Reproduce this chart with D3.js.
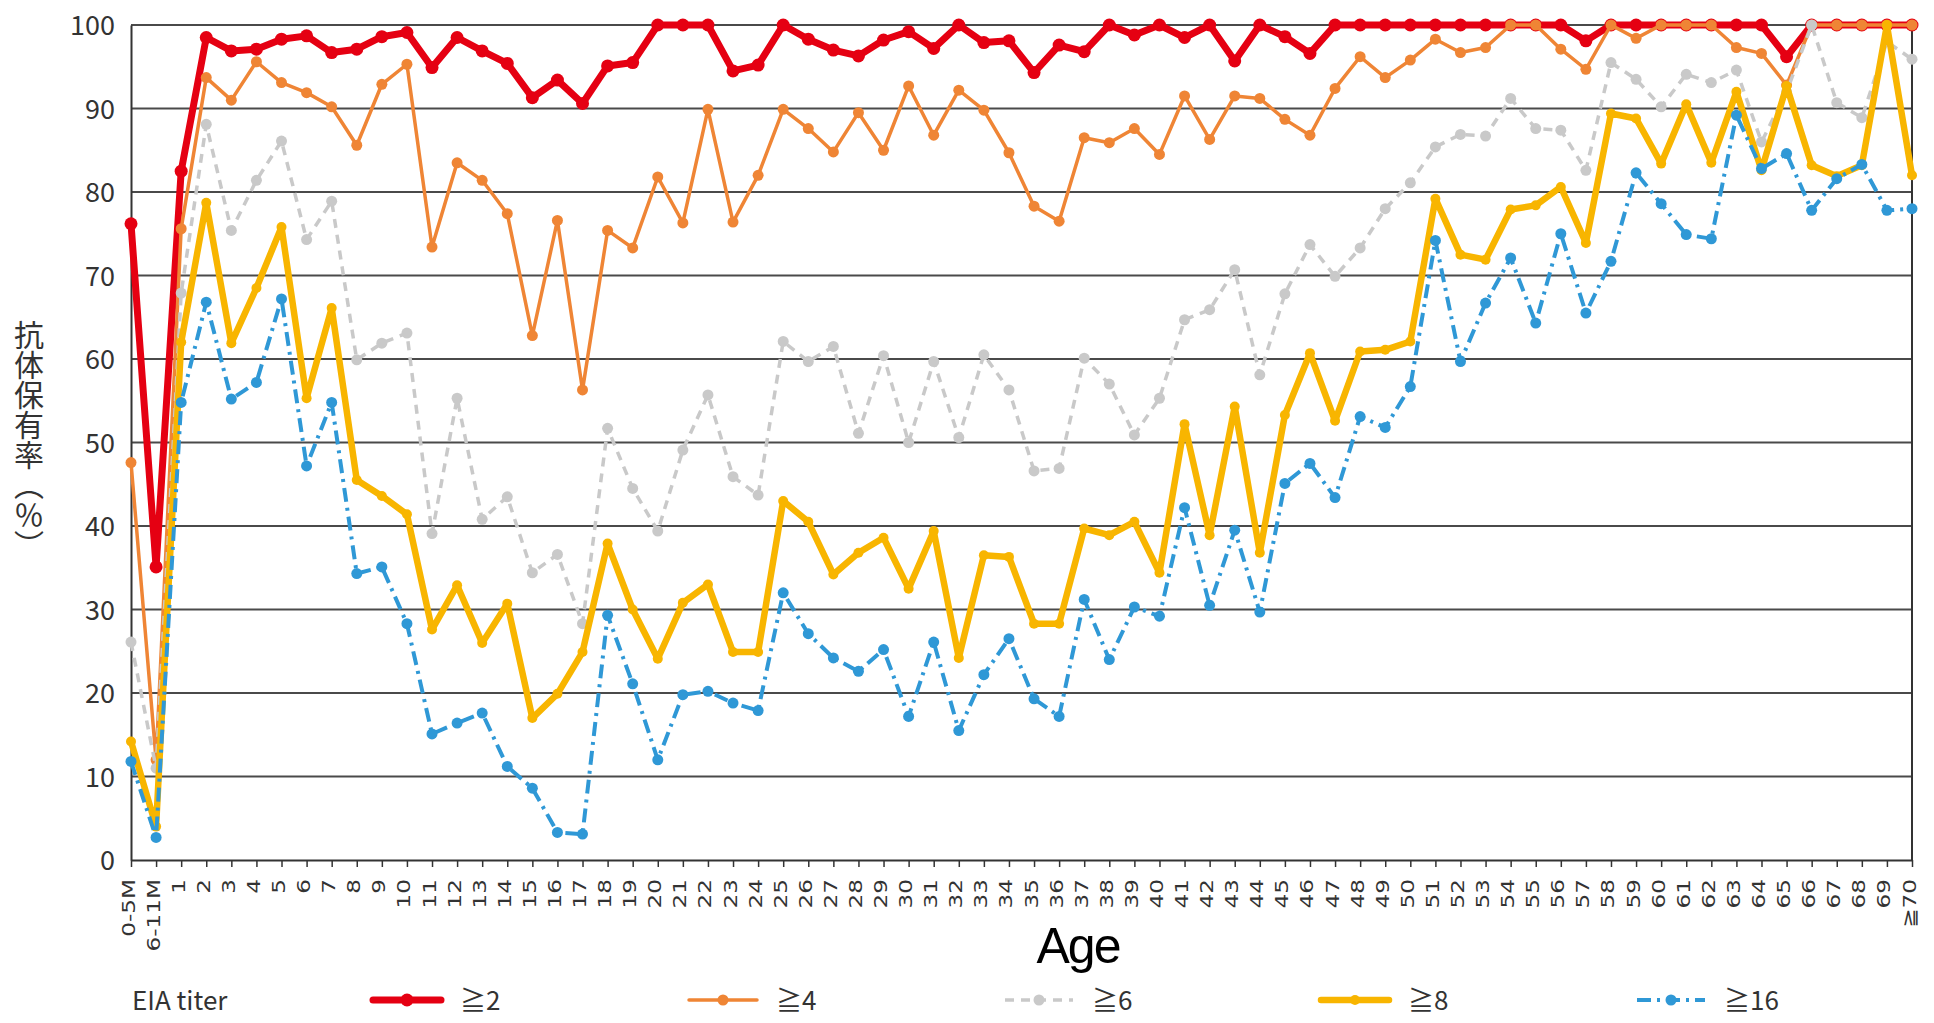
<!DOCTYPE html>
<html>
<head>
<meta charset="utf-8">
<script src="https://cdn.jsdelivr.net/npm/d3@7"></script>
<style>
  html, body { margin: 0; padding: 0; background: #fff; }
  svg { display: block; }
</style>
</head>
<body>
<svg id="chart"></svg>
<script>
// age groups on the x axis
const ages = ["0-5M","6-11M",
  "1","2","3","4","5","6","7","8","9","10",
  "11","12","13","14","15","16","17","18","19","20",
  "21","22","23","24","25","26","27","28","29","30",
  "31","32","33","34","35","36","37","38","39","40",
  "41","42","43","44","45","46","47","48","49","50",
  "51","52","53","54","55","56","57","58","59","60",
  "61","62","63","64","65","66","67","68","69","≧70"];

// antibody prevalence (%) by EIA titer
const ge2 = [76.2, 35.1,
  82.5, 98.5, 96.9, 97.1, 98.3, 98.7, 96.7, 97.1, 98.6, 99.1,
  94.9, 98.5, 96.9, 95.4, 91.3, 93.4, 90.6, 95.1, 95.5, 100,
  100, 100, 94.5, 95.2, 100, 98.3, 97.0, 96.3, 98.2, 99.2,
  97.2, 100, 97.9, 98.1, 94.3, 97.6, 96.8, 100, 98.8, 100,
  98.5, 100, 95.7, 100, 98.6, 96.6, 100, 100, 100, 100,
  100, 100, 100, 100, 100, 100, 98.1, 100, 100, 100,
  100, 100, 100, 100, 96.2, 100, 100, 100, 100, 100];
const ge4 = [47.6, 12.0,
  75.6, 93.7, 91.0, 95.6, 93.1, 91.9, 90.2, 85.6, 92.9, 95.3,
  73.4, 83.5, 81.4, 77.4, 62.8, 76.6, 56.3, 75.4, 73.3, 81.8,
  76.3, 89.9, 76.4, 82.0, 89.9, 87.6, 84.8, 89.5, 85.0, 92.7,
  86.8, 92.2, 89.8, 84.7, 78.3, 76.5, 86.5, 85.9, 87.6, 84.5,
  91.5, 86.3, 91.5, 91.2, 88.7, 86.8, 92.4, 96.2, 93.7, 95.8,
  98.3, 96.7, 97.3, 100, 100, 97.1, 94.7, 100, 98.4, 100,
  100, 100, 97.3, 96.6, 92.8, 100, 100, 100, 100, 100];
const ge6 = [26.1, 11.0,
  67.9, 88.1, 75.4, 81.4, 86.1, 74.3, 78.9, 59.9, 61.9, 63.1,
  39.1, 55.3, 40.8, 43.5, 34.4, 36.6, 28.3, 51.7, 44.5, 39.4,
  49.1, 55.7, 45.9, 43.7, 62.1, 59.7, 61.5, 51.1, 60.4, 50.0,
  59.7, 50.6, 60.5, 56.3, 46.6, 46.9, 60.1, 57.0, 50.9, 55.3,
  64.7, 65.9, 70.7, 58.1, 67.8, 73.7, 69.9, 73.3, 78.0, 81.1,
  85.4, 86.9, 86.7, 91.2, 87.6, 87.4, 82.6, 95.5, 93.5, 90.2,
  94.1, 93.1, 94.6, 86.0, 92.0, 100, 90.7, 88.9, 98.0, 95.9];
const ge8 = [14.2, 4.0,
  62.0, 78.7, 61.9, 68.5, 75.8, 55.3, 66.1, 45.5, 43.6, 41.4,
  27.6, 32.9, 26.0, 30.7, 17.0, 19.9, 24.9, 37.9, 30.0, 24.1,
  30.8, 33.0, 24.9, 24.9, 43.0, 40.5, 34.2, 36.8, 38.6, 32.5,
  39.4, 24.2, 36.5, 36.3, 28.3, 28.3, 39.7, 38.9, 40.5, 34.4,
  52.2, 38.9, 54.3, 36.8, 53.3, 60.7, 52.6, 60.9, 61.1, 62.1,
  79.2, 72.5, 71.9, 77.9, 78.4, 80.6, 73.9, 89.4, 88.8, 83.4,
  90.5, 83.5, 92.0, 82.6, 92.7, 83.2, 81.9, 83.2, 100, 82.0];
const ge16 = [11.8, 2.7,
  54.8, 66.8, 55.2, 57.2, 67.2, 47.2, 54.8, 34.3, 35.1, 28.3,
  15.1, 16.4, 17.6, 11.2, 8.6, 3.3, 3.1, 29.3, 21.1, 12.0,
  19.8, 20.2, 18.8, 17.9, 32.0, 27.1, 24.2, 22.6, 25.2, 17.2,
  26.1, 15.5, 22.2, 26.5, 19.3, 17.2, 31.2, 24.0, 30.3, 29.2,
  42.2, 30.5, 39.5, 29.7, 45.1, 47.5, 43.4, 53.1, 51.8, 56.7,
  74.2, 59.7, 66.7, 72.1, 64.3, 75.0, 65.5, 71.7, 82.3, 78.6,
  74.9, 74.4, 89.2, 82.8, 84.6, 77.8, 81.6, 83.3, 77.8, 78.0];

const seriesNames = ["≧2", "≧4", "≧6", "≧8", "≧16"];
const yTicks = [0, 10, 20, 30, 40, 50, 60, 70, 80, 90, 100];

const width = 1934, height = 1023;
const marginTop = 25, marginRight = 22, marginBottom = 163, marginLeft = 131;

// line look for each series, same order as seriesNames
const styles = [
  {color: "#e50012", width: 7,   dash: null,         r: 6.5},
  {color: "#ef8535", width: 3.5, dash: null,         r: 5.5},
  {color: "#c9c9c9", width: 3.5, dash: "9,7",        r: 5.5},
  {color: "#f8b500", width: 6.5, dash: null,         r: 5},
  {color: "#2f98d6", width: 4,   dash: "14,6,3,6",   r: 5.5}
];

const series = [ge2, ge4, ge6, ge8, ge16].map((values, i) => ({
  name: seriesNames[i], values, style: styles[i]
}));

const x = d3.scalePoint(ages, [marginLeft, width - marginRight]);
const y = d3.scaleLinear([0, 100], [height - marginBottom, marginTop]);

const svg = d3.select("#chart")
  .attr("width", width)
  .attr("height", height)
  .attr("viewBox", [0, 0, width, height]);

// horizontal grid
svg.append("g")
  .attr("stroke", "#4a4a4a")
  .attr("stroke-width", 1.8)
  .selectAll("line")
  .data(yTicks.filter(v => v > 0))
  .join("line")
    .attr("x1", marginLeft)
    .attr("x2", width - marginRight)
    .attr("y1", d => y(d))
    .attr("y2", d => y(d));

// right frame
svg.append("line")
  .attr("x1", width - marginRight).attr("x2", width - marginRight)
  .attr("y1", marginTop).attr("y2", height - marginBottom)
  .attr("stroke", "#333").attr("stroke-width", 2);

// y axis
svg.append("g")
  .attr("transform", `translate(${marginLeft},0)`)
  .call(d3.axisLeft(y).tickValues(yTicks).tickSize(0).tickPadding(16))
  .call(g => g.select(".domain").attr("stroke", "#333").attr("stroke-width", 2))
  .call(g => g.selectAll(".tick text")
      .attr("font-family", "'Noto Sans CJK JP', 'Noto Sans', sans-serif")
      .attr("font-size", 27)
      .attr("fill", "#333")
      .attr("dy", "0.36em"));

// x axis with rotated labels
svg.append("g")
  .attr("transform", `translate(0,${height - marginBottom})`)
  .call(d3.axisBottom(x).tickSize(7).tickSizeOuter(0))
  .call(g => g.select(".domain").attr("stroke", "#333").attr("stroke-width", 2))
  .call(g => g.selectAll(".tick line").attr("stroke", "#333").attr("stroke-width", 1.5))
  .call(g => g.selectAll(".tick text")
      .attr("font-family", "'DejaVu Sans', sans-serif")
      .attr("font-size", 18.5)
      .attr("fill", "#333")
      .attr("text-anchor", "end")
      .attr("transform", "rotate(-90) scale(1.25,1)")
      .attr("x", -15.2)
      .attr("y", 3)
      .attr("dy", 0));

// lines and markers
const line = d3.line()
  .x((d, i) => x(ages[i]))
  .y(d => y(d));

const sg = svg.append("g")
  .selectAll("g")
  .data(series)
  .join("g");

sg.append("path")
  .attr("fill", "none")
  .attr("stroke", d => d.style.color)
  .attr("stroke-width", d => d.style.width)
  .attr("stroke-dasharray", d => d.style.dash)
  .attr("stroke-linejoin", "round")
  .attr("d", d => line(d.values));

sg.selectAll("circle")
  .data(d => d.values.map((v, i) => ({v, i, s: d.style})))
  .join("circle")
    .attr("cx", d => x(ages[d.i]))
    .attr("cy", d => y(d.v))
    .attr("r", d => d.s.r)
    .attr("fill", d => d.s.color);

// y title, vertical
svg.append("text")
  .attr("x", 29)
  .attr("y", 320)
  .attr("font-family", "'Noto Sans CJK JP', sans-serif")
  .attr("font-size", 30)
  .attr("fill", "#333")
  .style("writing-mode", "vertical-rl")
  .text("抗体保有率（％）");

// x title
svg.append("text")
  .attr("x", 1078)
  .attr("y", 963)
  .attr("text-anchor", "middle")
  .attr("font-family", "'Liberation Sans', Arial, sans-serif")
  .attr("font-size", 50)
  .attr("letter-spacing", -2)
  .attr("fill", "#000")
  .text("Age");

// legend
const legendY = 1000;
svg.append("text")
  .attr("x", 132)
  .attr("y", legendY + 10)
  .attr("font-family", "'Noto Sans CJK JP', 'Noto Sans', sans-serif")
  .attr("font-size", 26)
  .attr("fill", "#333")
  .text("EIA titer");

const legend = svg.append("g")
  .selectAll("g")
  .data(series)
  .join("g")
    .attr("transform", (d, i) => `translate(${373 + i * 316},${legendY})`);

legend.append("line")
  .attr("x1", 0).attr("x2", 68)
  .attr("stroke", d => d.style.color)
  .attr("stroke-width", d => d.style.width)
  .attr("stroke-dasharray", d => d.style.dash)
  .attr("stroke-linecap", d => d.style.dash ? "butt" : "round");

legend.append("circle")
  .attr("cx", 34)
  .attr("r", d => d.style.r)
  .attr("fill", d => d.style.color);

legend.append("text")
  .attr("x", 87)
  .attr("y", 10)
  .attr("font-family", "'Noto Sans CJK JP', 'Noto Sans', sans-serif")
  .attr("font-size", 26)
  .attr("fill", "#333")
  .text(d => d.name);
</script>
</body>
</html>
